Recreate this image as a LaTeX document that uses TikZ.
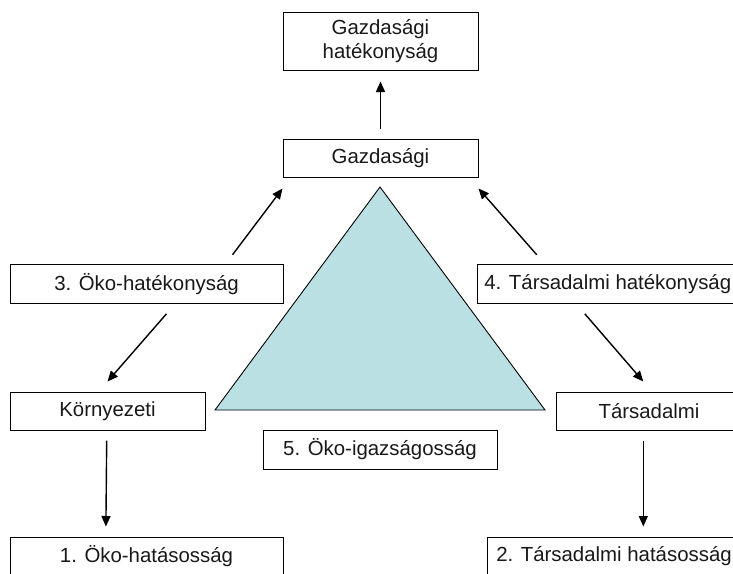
\documentclass[tikz,border=0pt]{standalone}
\usepackage{fontspec}
\setmainfont{Liberation Sans}
\usetikzlibrary{arrows.meta,calc}
\definecolor{tri}{RGB}{187,224,227}
\tikzset{
  box/.style={draw=black, line width=1pt, fill=white, inner sep=0pt, align=center,
    font=\fontsize{20.4}{23.5}\selectfont, text=black!90},
  arr/.style={line width=1.4pt, -{Triangle[length=10.5pt,width=9pt]}}
}
\begin{document}
\begin{tikzpicture}[x=1pt,y=-1pt]
\useasboundingbox (0,0) rectangle (733,573);
\clip (0,0) rectangle (733,573);
\fill[white] (0,0) rectangle (733,573);
% triangle
\draw[fill=tri, line width=0.9pt] (380,187) -- (215,410) -- (545,410) -- cycle;
% nodes
\node[box, minimum width=195pt, minimum height=58pt] (top) at (380.5,41) {Gazdasági\\hatékonyság};
\node[box, minimum width=195pt, minimum height=38pt] (gaz) at (380.5,158) {Gazdasági};
\node[box, minimum width=273pt, minimum height=39pt] (eko3) at (146.5,283.8) {3. Öko-hatékonyság};
\node[box, minimum width=261pt, minimum height=39pt] (tars4) at (607.8,283.8) {4. Társadalmi hatékonyság};
\node[box, minimum width=195pt, minimum height=38pt] (korny) at (107.5,411) {Környezeti};
\node[box, minimum width=186pt, minimum height=38pt] (tars) at (649,411) {Társadalmi};
\node[box, minimum width=234pt, minimum height=39pt] (oko5) at (380,449.5) {5. Öko-igazságosság};
\node[box, minimum width=273pt, minimum height=39pt] (eko1) at (146.5,556.5) {1. Öko-hatásosság};
\node[box, minimum width=254pt, minimum height=39pt] (tars2) at (614,556.5) {2. Társadalmi hatásosság};
% connector end points
\coordinate (t1) at ([shift={(0,11)}]top.south);
\coordinate (l0) at ([shift={(223,-9)}]eko3.north west);
\coordinate (l1) at ([shift={(0,11)}]gaz.south west);
\coordinate (r0) at ([shift={(60,-9)}]tars4.north west);
\coordinate (r1) at ([shift={(0,11)}]gaz.south east);
\coordinate (ld0) at ([shift={(157,10)}]eko3.south west);
\coordinate (ld1) at ([shift={(0,-10)}]korny.north);
\coordinate (rd0) at ([shift={(108,10)}]tars4.south west);
\coordinate (rd1) at ([shift={(-5.7,-10)}]tars.north);
\coordinate (kd0) at ([shift={(-0.8,10)}]korny.south);
\coordinate (kd1) at ([shift={(-40.6,-10)}]eko1.north);
\coordinate (td0) at ([shift={(-5.7,10)}]tars.south);
\coordinate (td1) at ([shift={(29.3,-10)}]tars2.north);
% connectors
\draw[arr] ([shift={(0,-10)}]gaz.north) -- (t1);
\draw[arr] (l0) -- (l1);
\draw[arr] (r0) -- (r1);
\draw[arr] (ld0) -- (ld1);
\draw[arr] (rd0) -- (rd1);
\draw[arr] (kd0) -- (kd1);
\draw[arr] (td0) -- (td1);
\end{tikzpicture}
\end{document}
